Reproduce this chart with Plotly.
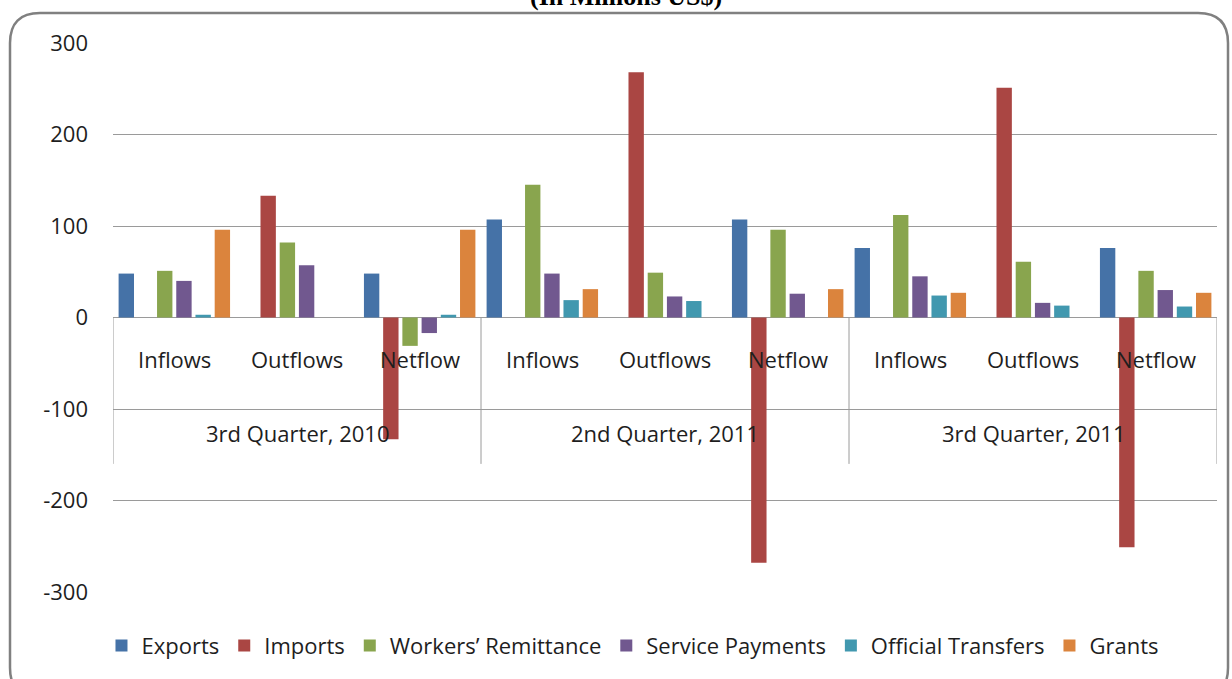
import plotly.graph_objects as go

quarters = ["3rd Quarter, 2010", "2nd Quarter, 2011", "3rd Quarter, 2011"]
flows = ["Inflows", "Outflows", "Netflow"]
categories = [f"{q} | {f}" for q in quarters for f in flows]

series_names = ["Exports", "Imports", "Workers\u2019 Remittance", "Service Payments",
                "Official Transfers", "Grants"]
colors = ["#4572A7", "#AA4643", "#89A54E", "#71588F", "#4198AF", "#DB843D"]

exports = [48, 0, 48, 107, 0, 107, 76, 0, 76]
imports = [0, 133, -133, 0, 268, -268, 0, 251, -251]
workers = [51, 82, -31, 145, 49, 96, 112, 61, 51]
service = [40, 57, -17, 48, 23, 26, 45, 16, 30]
official = [3, 0, 3, 19, 18, 0, 24, 13, 12]
grants = [96, 0, 96, 31, 0, 31, 27, 0, 27]
values = [exports, imports, workers, service, official, grants]

y_ticks = [-300, -200, -100, 0, 100, 200, 300]

FONT = "Open Sans"
FS = 22
TXT = "#1e1e1e"
fig = go.Figure()
for name, col, vals in zip(series_names, colors, values):
    fig.add_trace(go.Bar(x=categories, y=vals, name=name,
                         marker=dict(color=col, line=dict(width=0))))

grid = "#9a9a9a"
fig.update_layout(
    width=1232, height=679,
    margin=dict(l=113, r=15, t=43, b=85),
    paper_bgcolor="white", plot_bgcolor="white",
    barmode="group", bargap=0.06, bargroupgap=0.2,
    font=dict(family=FONT, size=FS, color=TXT),
    showlegend=True,
    legend=dict(orientation="h", x=0.471, xanchor="center", y=-0.098, yanchor="middle",
                font=dict(family=FONT, size=FS, color=TXT), itemwidth=30,
                traceorder="normal"),
    xaxis=dict(showticklabels=False, showgrid=False, zeroline=False, showline=False,
               range=[-0.5, 8.5], fixedrange=True),
    yaxis=dict(range=[-300, 300], tickvals=y_ticks, ticktext=[str(v) for v in y_ticks],
               showgrid=True, gridcolor=grid, gridwidth=1, zeroline=True,
               zerolinecolor=grid, zerolinewidth=1, showline=False, ticks="",
               ticklabelstandoff=24, tickfont=dict(family=FONT, size=FS, color=TXT)),
)

# category labels
for i, cat in enumerate(categories):
    q, f = cat.split(" | ")
    fig.add_annotation(x=i, y=-45.5, xref="x", yref="y", text=f, showarrow=False,
                       font=dict(family=FONT, size=FS, color=TXT))
for j, q in enumerate(quarters):
    fig.add_annotation(x=3 * j + 1, y=-126, xref="x", yref="y", text=q, showarrow=False,
                       font=dict(family=FONT, size=FS, color=TXT))
for xv in [-0.5, 2.5, 5.5, 8.5]:
    fig.add_shape(type="line", x0=xv, x1=xv, y0=0, y1=-160, xref="x", yref="y",
                  line=dict(color=grid, width=1), layer="below")

# rounded frame
x0, x1 = (10 - 113) / 1104, (1228 - 113) / 1104
y1, y0 = (594 - 13) / 551, (594 - 700) / 551
rx, ry = 30 / 1104, 30 / 551
path = (f"M {x0+rx} {y1} L {x1-rx} {y1} Q {x1} {y1} {x1} {y1-ry} "
        f"L {x1} {y0+ry} Q {x1} {y0} {x1-rx} {y0} L {x0+rx} {y0} "
        f"Q {x0} {y0} {x0} {y0+ry} L {x0} {y1-ry} Q {x0} {y1} {x0+rx} {y1} Z")
fig.add_shape(type="path", path=path, xref="paper", yref="paper",
              line=dict(color="#808080", width=2.5), fillcolor="rgba(0,0,0,0)")

fig.add_annotation(x=(626 - 113) / 1104, y=(594 - 13) / 551, xref="paper", yref="paper",
                   text="<b>(In Millions US$)</b>", showarrow=False, yanchor="bottom",
                   font=dict(family="Liberation Serif", size=26, color="black"))

fig.write_html("out.html", config={"displayModeBar": False},
               post_script="document.body.style.margin='0';")
